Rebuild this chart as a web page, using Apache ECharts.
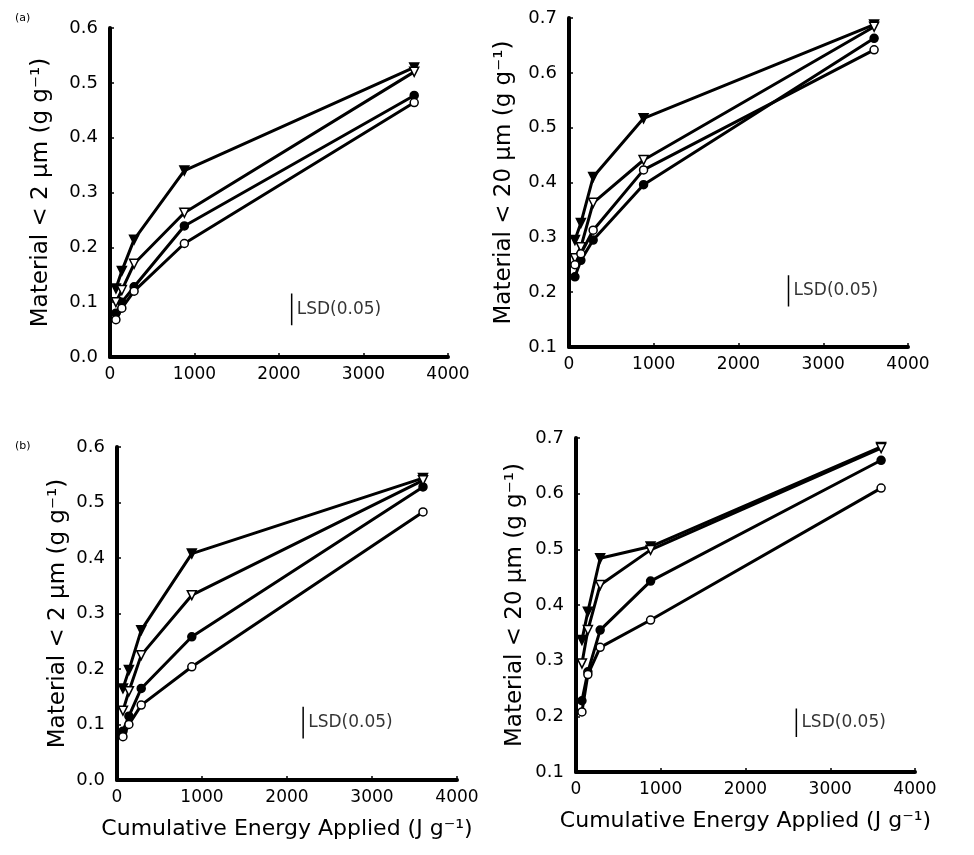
<!DOCTYPE html>
<html>
<head>
<meta charset="utf-8">
<script src="https://cdn.jsdelivr.net/npm/echarts@6/dist/echarts.min.js"></script>
<style>html,body{margin:0;padding:0;background:#fff}#c{width:974px;height:855px}</style>
</head>
<body>
<div id="c"></div>
<script>
// Cumulative energy applied (J g-1) at each sampling step
const energy = [70, 140, 285, 880, 3600];
const xTicks = [0, 1000, 2000, 3000, 4000];

// Panel (a) left: material < 2 um
const aL_filledTri = [0.125, 0.157, 0.214, 0.340, 0.528];
const aL_openTri   = [0.100, 0.122, 0.170, 0.263, 0.520];
const aL_filledCir = [0.080, 0.100, 0.128, 0.239, 0.477];
const aL_openCir   = [0.068, 0.089, 0.120, 0.207, 0.464];
// Panel (a) right: material < 20 um
const aR_filledTri = [0.295, 0.326, 0.410, 0.517, 0.688];
const aR_openTri   = [0.262, 0.282, 0.363, 0.441, 0.684];
const aR_openCir   = [0.250, 0.270, 0.313, 0.423, 0.642];
const aR_filledCir = [0.228, 0.258, 0.295, 0.396, 0.663];
// Panel (b) left: material < 2 um
const bL_filledTri = [0.165, 0.198, 0.270, 0.408, 0.544];
const bL_openTri   = [0.125, 0.160, 0.225, 0.333, 0.540];
const bL_filledCir = [0.088, 0.115, 0.165, 0.258, 0.528];
const bL_openCir   = [0.078, 0.100, 0.135, 0.204, 0.483];
// Panel (b) right: material < 20 um
const bR_filledTri = [0.337, 0.388, 0.484, 0.505, 0.684];
const bR_openTri   = [0.295, 0.355, 0.436, 0.499, 0.682];
const bR_filledCir = [0.228, 0.280, 0.355, 0.443, 0.660];
const bR_openCir   = [0.208, 0.275, 0.324, 0.373, 0.610];

// LSD(0.05) bars: [x, low, high]
const lsdAL = [2150, 0.058, 0.116];
const lsdAR = [2590, 0.174, 0.231];
const lsdBL = [2190, 0.075, 0.132];
const lsdBR = [2600, 0.163, 0.214];

const yLabel2 = 'Material < 2 μm (g g⁻¹)';
const yLabel20 = 'Material < 20 μm (g g⁻¹)';
const xLabel = 'Cumulative Energy Applied (J g⁻¹)';

const FONT = 'DejaVu Sans';
const chart = echarts.init(document.getElementById('c'), null, {renderer: 'canvas'});

const grids = [
  {left: 110, top: 28, width: 338, height: 329},
  {left: 569, top: 18, width: 339, height: 329},
  {left: 117, top: 447, width: 340, height: 333},
  {left: 576, top: 438, width: 339, height: 334}
];
const yRanges = [[0, 0.6], [0.1, 0.7], [0, 0.6], [0.1, 0.7]];
const yNames = [yLabel2, yLabel20, yLabel2, yLabel20];
const yGaps = [57, 53, 47, 49];

const xAxes = grids.map((g, i) => ({
  gridIndex: i, type: 'value', min: xTicks[0], max: xTicks[xTicks.length - 1], interval: 1000,
  name: i >= 2 ? xLabel : '', nameLocation: 'middle', nameGap: 38,
  nameTextStyle: {fontFamily: FONT, fontSize: 22, color: '#000'},
  axisLine: {show: true, onZero: false, lineStyle: {color: '#000', width: 4}},
  axisTick: {show: true, inside: true, length: 4, lineStyle: {color: '#000', width: 1.5}},
  axisLabel: {fontFamily: FONT, fontSize: 17, color: '#000', margin: 9,
    formatter: v => String(v)},
  splitLine: {show: false}
}));
const yAxes = grids.map((g, i) => ({
  gridIndex: i, type: 'value', min: yRanges[i][0], max: yRanges[i][1], interval: 0.1,
  name: yNames[i], nameLocation: 'middle', nameGap: yGaps[i],
  nameTextStyle: {fontFamily: FONT, fontSize: 23, color: '#000'},
  axisLine: {show: true, onZero: false, lineStyle: {color: '#000', width: 4}},
  axisTick: {show: true, inside: true, length: 4, lineStyle: {color: '#000', width: 1.5}},
  axisLabel: {fontFamily: FONT, fontSize: 18, color: '#000', margin: 12,
    formatter: v => v.toFixed(1)},
  splitLine: {show: false}
}));

function pts(arr) { return energy.map((x, k) => [x, arr[k]]); }
function lineSeries(i, arr, kind) {
  const filled = kind.indexOf('filled') === 0;
  const tri = kind.indexOf('Tri') > 0;
  return {
    type: 'line', xAxisIndex: i, yAxisIndex: i, data: pts(arr),
    symbol: tri ? 'triangle' : 'circle', symbolRotate: tri ? 180 : 0,
    symbolSize: tri ? 9 : 8, showAllSymbol: true,
    lineStyle: {color: '#000', width: 3},
    itemStyle: {color: filled ? '#000' : '#fff', borderColor: '#000', borderWidth: 1.5},
    z: filled ? 3 : 4, animation: false, silent: true
  };
}
function lsdSeries(i, lsd) {
  return [
    {type: 'line', xAxisIndex: i, yAxisIndex: i, data: [[lsd[0], lsd[1]], [lsd[0], lsd[2]]],
     symbol: 'none', lineStyle: {color: '#000', width: 1.5}, animation: false, silent: true},
    {type: 'scatter', xAxisIndex: i, yAxisIndex: i, data: [[lsd[0], (lsd[1] + lsd[2]) / 2]],
     symbolSize: 0.1, itemStyle: {color: '#000'}, animation: false, silent: true,
     label: {show: true, position: 'right', distance: 5, formatter: 'LSD(0.05)',
       fontFamily: FONT, fontSize: 17, color: '#000', textBorderWidth: 0}}
  ];
}

const series = [
  lineSeries(0, aL_filledTri, 'filledTri'), lineSeries(0, aL_openTri, 'openTri'),
  lineSeries(0, aL_filledCir, 'filledCir'), lineSeries(0, aL_openCir, 'openCir'),
  lineSeries(1, aR_filledTri, 'filledTri'), lineSeries(1, aR_openTri, 'openTri'),
  lineSeries(1, aR_openCir, 'openCir'), lineSeries(1, aR_filledCir, 'filledCir'),
  lineSeries(2, bL_filledTri, 'filledTri'), lineSeries(2, bL_openTri, 'openTri'),
  lineSeries(2, bL_filledCir, 'filledCir'), lineSeries(2, bL_openCir, 'openCir'),
  lineSeries(3, bR_filledTri, 'filledTri'), lineSeries(3, bR_openTri, 'openTri'),
  lineSeries(3, bR_filledCir, 'filledCir'), lineSeries(3, bR_openCir, 'openCir'),
  ...lsdSeries(0, lsdAL), ...lsdSeries(1, lsdAR), ...lsdSeries(2, lsdBL), ...lsdSeries(3, lsdBR)
];

chart.setOption({
  backgroundColor: '#fff',
  animation: false,
  title: [
    {text: '(a)', left: 10, top: 8, textStyle: {fontFamily: FONT, fontSize: 11, fontWeight: 'normal', color: '#000'}},
    {text: '(b)', left: 10, top: 436, textStyle: {fontFamily: FONT, fontSize: 11, fontWeight: 'normal', color: '#000'}}
  ],
  grid: grids,
  xAxis: xAxes,
  yAxis: yAxes,
  series: series
});
</script>
</body>
</html>
